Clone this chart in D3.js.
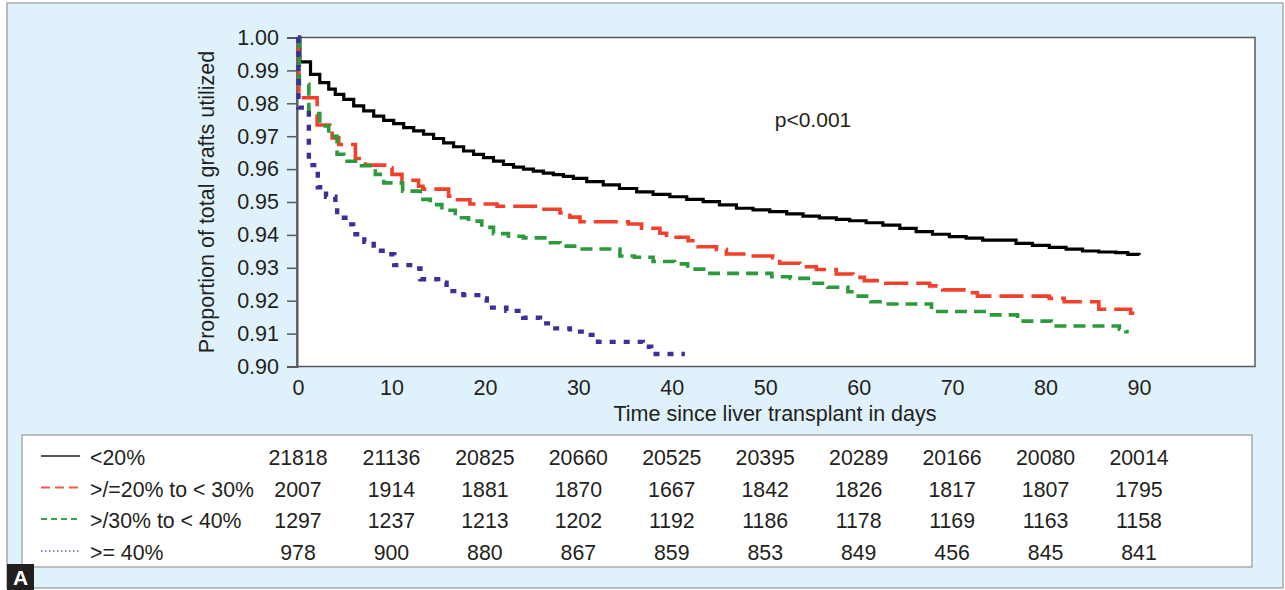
<!DOCTYPE html>
<html><head><meta charset="utf-8">
<script src="https://cdn.jsdelivr.net/npm/d3@7"></script>
<style>
body{margin:0;background:#fff}
svg{display:block}
text{font-family:"Liberation Sans",Arial,sans-serif;fill:#231f20}
</style>
</head><body><svg id="c" width="1285" height="590"></svg>
<script>
// ---------- data ----------
const xTicks = [0,10,20,30,40,50,60,70,80,90];
const yTicks = [0.90,0.91,0.92,0.93,0.94,0.95,0.96,0.97,0.98,0.99,1.00];
const groupLabels = ["<20%", ">/=20% to < 30%", ">/30% to < 40%", ">= 40%"];

// Kaplan-Meier step points: [day, proportion]
const kmLt20 = [
 [0,1.000],[0.2,0.9926],[1.34,0.9888],[2.33,0.9863],[3.29,0.9843],[3.99,0.9827],[4.90,0.9812],
 [5.96,0.9792],[7.03,0.9777],[8.10,0.9761],[9.17,0.9748],[10.24,0.9738],[11.31,0.9726],[12.38,0.9716],
 [13.44,0.9706],[14.51,0.9693],[15.58,0.9680],[16.65,0.9668],[17.72,0.9655],[18.79,0.9645],[19.85,0.9635],
 [20.92,0.9624],[21.99,0.9614],[23.06,0.9606],[24.13,0.9600],[25.19,0.9594],[26.26,0.9588],[27.33,0.9583],
 [28.40,0.9578],[29.47,0.9572],[30.9,0.9562],[32.67,0.9552],[34.4,0.9541],[36.24,0.9531],[38.0,0.9523],
 [39.80,0.9516],[41.6,0.9508],[43.36,0.9501],[45.1,0.9491],[46.92,0.9481],[48.7,0.9476],[50.48,0.9471],
 [52.3,0.9464],[54.04,0.9457],[55.8,0.9452],[57.61,0.9447],[59.03,0.9443],[60.8,0.9437],[62.59,0.9430],
 [64.4,0.9420],[66.15,0.9410],[67.9,0.9402],[69.71,0.9395],[71.5,0.9390],[73.27,0.9384],[76.84,0.9374],
 [78.6,0.9368],[80.40,0.9362],[82.2,0.9357],[83.96,0.9351],[85.7,0.9348],[87.52,0.9346],[88.8,0.9341],[90.0,0.9338]
];
const km20to30 = [
 [0,1.000],[0.09,0.9817],[2.05,0.9734],[3.40,0.9724],[3.65,0.9695],[4.36,0.9675],[6.14,0.9632],[7.21,0.9612],
 [9.53,0.9604],[10.06,0.9584],[11.13,0.9566],[12.90,0.9548],[13.37,0.9539],[16.11,0.9518],[16.65,0.9507],
 [18.4,0.9494],[21.3,0.9487],[25.8,0.9478],[28.04,0.9467],[29.1,0.9454],[30.18,0.9440],[35.35,0.9433],
 [36.77,0.9420],[38.73,0.9405],[39.44,0.9393],[41.75,0.9382],[42.82,0.9364],[44.78,0.9356],[45.85,0.9342],
 [48.3,0.9336],[50.8,0.9331],[51.55,0.9314],[53.7,0.9303],[55.47,0.9295],[57.6,0.9281],[59.4,0.9271],
 [60.6,0.9261],[62.9,0.9253],[67.6,0.9245],[69.0,0.9233],[71.7,0.9224],[72.7,0.9214],[80.4,0.9207],
 [82.0,0.9197],[85.7,0.9174],[89.1,0.9162],[90.0,0.9162]
];
const km30to40 = [
 [0,1.000],[0.15,0.9858],[1.16,0.9769],[2.33,0.9731],[3.29,0.9700],[4.18,0.9645],[4.9,0.9624],[6.5,0.9610],
 [8.28,0.9584],[9.17,0.9558],[11.2,0.9533],[13.09,0.9508],[14.16,0.9492],[15.4,0.9475],[16.83,0.9452],
 [18.25,0.9442],[19.67,0.9423],[20.92,0.9404],[22.52,0.9396],[24.13,0.9391],[26.8,0.9376],[28.04,0.9366],
 [30.2,0.9357],[34.45,0.9336],[36.0,0.9332],[38.0,0.9319],[40.3,0.9312],[41.7,0.9296],[43.8,0.9283],
 [50.7,0.9273],[52.7,0.9268],[54.6,0.9253],[56.7,0.9241],[58.85,0.9227],[59.7,0.9214],[61.3,0.9197],
 [62.9,0.9190],[67.8,0.9167],[74.0,0.9157],[77.0,0.9138],[80.6,0.9123],[87.9,0.9113],[88.6,0.9106],[88.9,0.9106]
];
const kmGe40 = [
 [0,1.000],[0.05,0.9787],[1.16,0.9612],[2.12,0.9545],[3.0,0.9516],[4.0,0.9489],[4.19,0.9452],[5.07,0.9432],
 [5.9,0.9402],[7.1,0.9379],[8.1,0.9352],[9.5,0.9341],[10.3,0.9308],[12.4,0.9298],[13.1,0.9265],[15.0,0.9255],
 [15.9,0.9229],[17.7,0.9217],[19.7,0.9207],[20.2,0.9179],[22.3,0.9169],[24.1,0.9148],[25.9,0.9131],
 [27.2,0.9116],[29.1,0.9106],[30.9,0.9096],[32.1,0.9075],[36.9,0.9060],[37.8,0.9038],[41.4,0.9038]
];

// numbers at risk
const riskLt20   = [21818,21136,20825,20660,20525,20395,20289,20166,20080,20014];
const risk20to30 = [2007,1914,1881,1870,1667,1842,1826,1817,1807,1795];
const risk30to40 = [1297,1237,1213,1202,1192,1186,1178,1169,1163,1158];
const riskGe40   = [978,900,880,867,859,853,849,456,845,841];

const yTitle = "Proportion of total grafts utilized";
const xTitle = "Time since liver transplant in days";
const pText = "p<0.001";

// ---------- drawing ----------
const svg = d3.select("#c");
const plotL = 297, plotR = 1255, plotT = 37.5, plotB = 366.5;
const x = d3.scaleLinear().domain([0,90]).range([298,1139]);
const y = d3.scaleLinear().domain([0.90,1.00]).range([plotB,plotT]);
const FONT = '"Liberation Sans",Arial,sans-serif';

svg.append("rect").attr("x",7).attr("y",3).attr("width",1276).attr("height",585)
  .attr("fill","#dff1fa").attr("stroke","#a7a9ac").attr("stroke-width",1.5);

svg.append("rect").attr("x",plotL).attr("y",plotT).attr("width",plotR-plotL).attr("height",plotB-plotT)
  .attr("fill","#fff").attr("stroke","#58595b").attr("stroke-width",1.5);

// y axis
const yAxis = d3.axisLeft(y).tickValues(yTicks).tickFormat(d3.format(".2f")).tickSize(10).tickPadding(8);
const gy = svg.append("g").attr("transform",`translate(${plotL},0)`).call(yAxis);
gy.select(".domain").attr("stroke","#58595b").attr("stroke-width",2);
gy.selectAll(".tick line").attr("stroke","#58595b").attr("stroke-width",1.5);
gy.selectAll(".tick text").style("font-size","21.5px").attr("fill","#231f20").style("font-family",FONT);

// x axis (labels only)
const xAxis = d3.axisBottom(x).tickValues(xTicks).tickSize(0).tickPadding(13);
const gx = svg.append("g").attr("transform",`translate(0,${plotB})`).call(xAxis);
gx.select(".domain").remove();
gx.selectAll(".tick text").style("font-size","21.5px").attr("fill","#231f20").style("font-family",FONT);

// titles
svg.append("text").attr("x",775).attr("y",421).attr("text-anchor","middle")
  .style("font-size","21.5px").text(xTitle);
svg.append("text").attr("transform",`translate(214,${(plotT+plotB)/2}) rotate(-90)`)
  .attr("text-anchor","middle").style("font-size","21.5px").text(yTitle);
svg.append("text").attr("x",813).attr("y",127).attr("text-anchor","middle")
  .style("font-size","21px").text(pText);

// curves
const series = [
  {data:kmLt20,   color:"#000000", width:3.2, dash:null},
  {data:km20to30, color:"#f2402b", width:3.6, dash:"24,8"},
  {data:km30to40, color:"#2b9a3c", width:3.6, dash:"12,7"},
  {data:kmGe40,   color:"#3b2f9a", width:4.4, dash:"6,8"}
];
const line = d3.line().x(d=>x(d[0])).y(d=>y(d[1])).curve(d3.curveStepAfter);
svg.append("g").selectAll("path").data(series).join("path")
  .attr("d",s=>line(s.data)).attr("fill","none")
  .attr("stroke",s=>s.color).attr("stroke-width",s=>s.width)
  .attr("stroke-dasharray",s=>s.dash);

// table
svg.append("rect").attr("x",22).attr("y",435).attr("width",1230).attr("height",132)
  .attr("fill","#fff").attr("stroke","#a7a9ac").attr("stroke-width",1.5);
const rows = [
  {label:groupLabels[0], risk:riskLt20,   color:"#231f20", dash:null,  w:1.6},
  {label:groupLabels[1], risk:risk20to30, color:"#f05a48", dash:"9,5", w:2},
  {label:groupLabels[2], risk:risk30to40, color:"#3aa04a", dash:"6,4", w:1.8},
  {label:groupLabels[3], risk:riskGe40,   color:"#5b5bc8", dash:"1.5,2.5", w:1.4}
];
const rowY = [465, 496.5, 528, 560];
const sampleY = [456, 487.5, 519, 551];
const tg = svg.append("g");
rows.forEach((r,i)=>{
  tg.append("line").attr("x1",41).attr("x2",80).attr("y1",sampleY[i]).attr("y2",sampleY[i])
    .attr("stroke",r.color).attr("stroke-width",r.w).attr("stroke-dasharray",r.dash);
  tg.append("text").attr("x",90).attr("y",rowY[i]).style("font-size","21.3px").text(r.label);
  tg.selectAll(null).data(r.risk).join("text")
    .attr("x",(d,j)=>x(xTicks[j])).attr("y",rowY[i]).attr("text-anchor","middle")
    .style("font-size","21.3px").text(d=>d);
});

// panel letter
svg.append("rect").attr("x",7).attr("y",564).attr("width",27).attr("height",26).attr("fill","#231f20");
svg.append("text").attr("x",20.5).attr("y",585).attr("text-anchor","middle")
  .style("font-size","21px").style("font-weight","bold").style("fill","#fff").text("A");
</script>
</body></html>
